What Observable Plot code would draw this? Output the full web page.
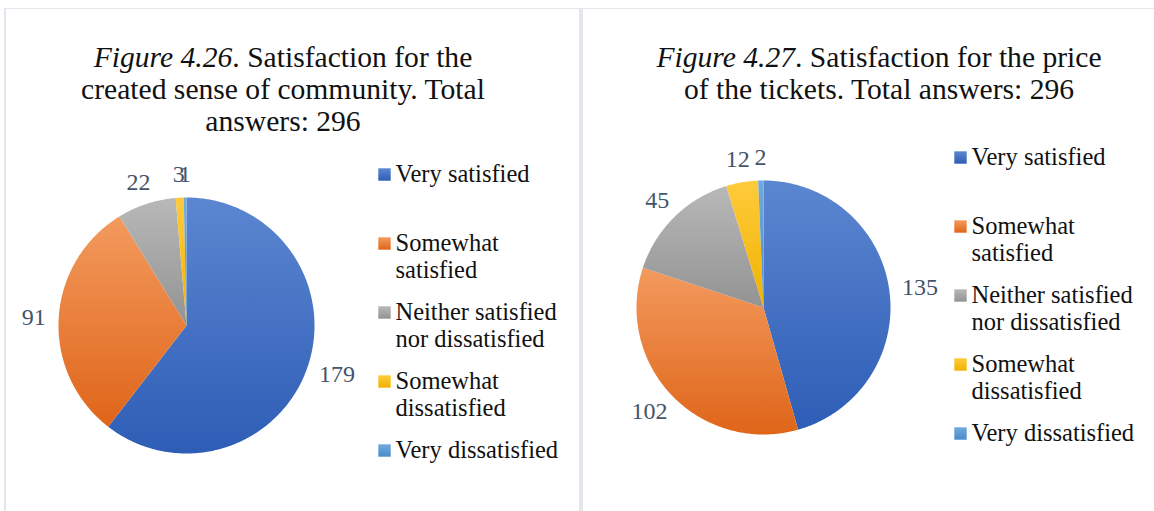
<!DOCTYPE html>
<html><head><meta charset="utf-8">
<script src="https://cdn.jsdelivr.net/npm/d3@7"></script>
<script src="https://cdn.jsdelivr.net/npm/@observablehq/plot@0.6"></script>
<style>
html,body{margin:0;padding:0;background:#fff;}
#wrap{position:relative;width:1154px;height:511px;overflow:hidden;background:#fff;}
#wrap svg.plot{position:absolute;left:0;top:0;}
.title{position:absolute;top:41px;font-family:"Liberation Serif","Times New Roman",serif;font-size:29.6px;line-height:32px;color:#111;text-align:center;white-space:nowrap;transform:translateX(-50%);}
.frame{position:absolute;background:#e3e7ed;}
</style></head><body>
<svg width="0" height="0" style="position:absolute">
  <defs id="gradDefs"></defs>
</svg>
<div id="wrap">
  <div class="frame" style="left:5px;top:8px;width:1149px;height:1px;"></div>
  <div class="frame" style="left:4px;top:8px;width:2px;height:503px;"></div>
  <div class="frame" style="left:579px;top:8px;width:4px;height:503px;"></div>
</div>
<script>
// ---- data ----
const categories = ["Very satisfied", "Somewhat satisfied", "Neither satisfied nor dissatisfied", "Somewhat dissatisfied", "Very dissatisfied"];
const legendLines = [["Very satisfied"], ["Somewhat", "satisfied"], ["Neither satisfied", "nor dissatisfied"], ["Somewhat", "dissatisfied"], ["Very dissatisfied"]];
const communityValues = [179, 91, 22, 3, 1];
const priceValues = [135, 102, 45, 12, 2];
const titleNumbers = ["Figure 4.26", "Figure 4.27"];
const titleRests = [[". Satisfaction for the", "created sense of community. Total", "answers: 296"],
                    [". Satisfaction for the price", "of the tickets. Total answers: 296"]];

// ---- styles ----
const gradStops = [["#5B86D0", "#2E5DB6"], ["#F39A5E", "#DF6519"], ["#B8B8B8", "#939393"], ["#FFCB3C", "#EFB200"], ["#72AADD", "#4A8BCB"]];
const defs = d3.select("#gradDefs");
gradStops.forEach((s, i) => {
  const g = defs.append("linearGradient").attr("id", "g" + i).attr("x1", 0).attr("y1", 0).attr("x2", 0).attr("y2", 1);
  g.append("stop").attr("offset", "0%").attr("stop-color", s[0]);
  g.append("stop").attr("offset", "100%").attr("stop-color", s[1]);
});

const W = 1154, H = 511;
const pies = [
  {id: "a", values: communityValues, cx: 186, cy: 325, r: 128, legendX: 384, legendY: 174},
  {id: "b", values: priceValues, cx: 763, cy: 307, r: 127, legendX: 960, legendY: 157}
];

const sliceRows = [], labelRows = [], swatchRows = [], legendTextRows = [];
pies.forEach(p => {
  const arcs = d3.pie().sort(null).value(d => d)(p.values);
  arcs.forEach((a, i) => {
    const key = p.id + i, cat = categories[i];
    sliceRows.push({key, cat, x: p.cx, y: p.cy});
    const n = Math.max(2, Math.ceil((a.endAngle - a.startAngle) / 0.01));
    for (let k = 0; k <= n; k++) {
      const t = a.startAngle + (a.endAngle - a.startAngle) * k / n;
      sliceRows.push({key, cat, x: p.cx + p.r * Math.sin(t), y: p.cy - p.r * Math.cos(t)});
    }
    const mid = (a.startAngle + a.endAngle) / 2;
    const ux = Math.sin(mid), uy = -Math.cos(mid);
    const txt = String(p.values[i]);
    const hw = txt.length * 6, hh = 10, R = p.r + 13;
    labelRows.push({text: txt, x: p.cx + R * ux + ux * hw, y: p.cy + R * uy + uy * hh});
    swatchRows.push({cat, x: p.legendX, y: p.legendY + i * 69});
    legendLines[i].forEach((line, j) => legendTextRows.push({text: line, x: p.legendX + 11, y: p.legendY + i * 69 + j * 27}));
  });
});

const serif = "'Liberation Serif','Times New Roman',serif";
const chart = Plot.plot({
  width: W, height: H,
  marginTop: 0, marginRight: 0, marginBottom: 0, marginLeft: 0,
  x: {domain: [0, W], range: [0, W], axis: null},
  y: {domain: [0, H], range: [0, H], axis: null},
  color: {type: "ordinal", domain: categories, range: categories.map((_, i) => `url(#g${i})`)},
  style: {background: "transparent", overflow: "visible"},
  marks: [
    Plot.line(sliceRows, {x: "x", y: "y", z: "key", fill: "cat", stroke: "none"}),
    Plot.text(labelRows, {x: "x", y: "y", text: "text", fill: "#44546A", fontSize: 24, fontFamily: serif, textAnchor: "middle", lineAnchor: "middle"}),
    Plot.dot(swatchRows, {x: "x", y: "y", fill: "cat", symbol: "square", r: 7, stroke: "none"}),
    Plot.text(legendTextRows, {x: "x", y: "y", text: "text", fill: "#111", fontSize: 24.5, fontFamily: serif, textAnchor: "start", lineAnchor: "middle"})
  ]
});
chart.classList.add("plot");
const wrap = document.getElementById("wrap");
wrap.insertBefore(chart, wrap.firstChild);

const titleCenters = [283, 879];
titleNumbers.forEach((num, k) => {
  const div = document.createElement("div");
  div.className = "title";
  div.style.left = titleCenters[k] + "px";
  const rest = titleRests[k];
  div.innerHTML = `<i>${num}</i>${rest[0]}` + rest.slice(1).map(l => "<br>" + l).join("");
  wrap.appendChild(div);
});
</script>
</body></html>
